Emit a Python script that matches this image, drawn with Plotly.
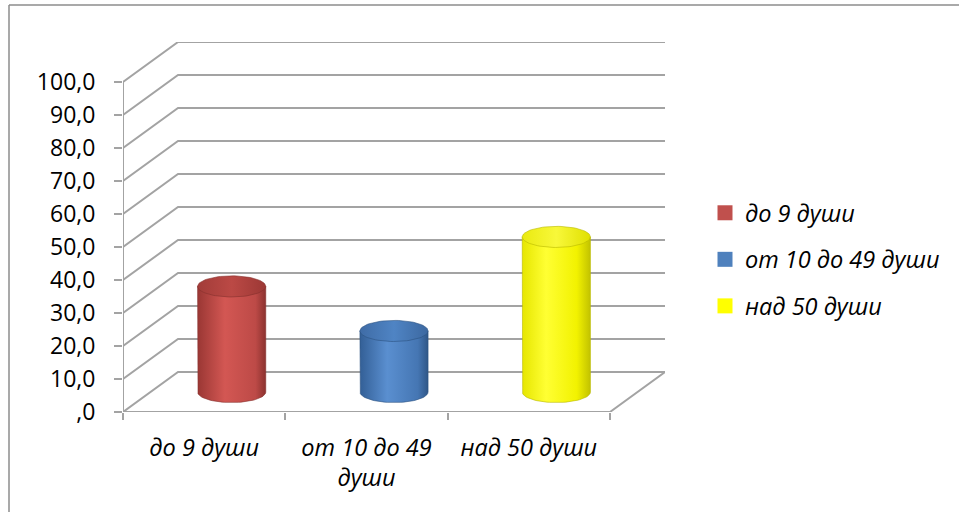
import numpy as np
import plotly.graph_objects as go

# ---- data ----
categories = ["до 9 души", "от 10 до 49 души", "над 50 души"]
category_tick_text = ["до 9 души", "от 10 до 49<br>души", "над 50 души"]
values = [32.0, 18.5, 47.0]
y_tick_values = [0, 10, 20, 30, 40, 50, 60, 70, 80, 90, 100]
y_tick_labels = [",0", "10,0", "20,0", "30,0", "40,0", "50,0",
                 "60,0", "70,0", "80,0", "90,0", "100,0"]

# ---- styling ----
base_colors = ["#C0504D", "#4F81BD", "#FFFF00"]
body_scales = [
    [[0, "#9a3734"], [0.4, "#d35753"], [0.85, "#bd4a47"], [1, "#8c322f"]],
    [[0, "#335f96"], [0.4, "#5a8fd0"], [0.85, "#4576b3"], [1, "#2f5687"]],
    [[0, "#e6e600"], [0.35, "#ffff33"], [0.8, "#f2f200"], [1, "#c2c200"]],
]
top_scales = [
    [[0, "#a23c39"], [0.5, "#bb4945"], [1, "#9c3835"]],
    [[0, "#3f6ca6"], [0.5, "#4f84c4"], [1, "#3c68a0"]],
    [[0, "#eaea10"], [0.5, "#f8f83a"], [1, "#e0e000"]],
]
edge_colors = ["#86302d", "#2c5282", "#b8b800"]
grid_color = "#a3a3a3"
font_family = "Open Sans"

# oblique depth of the 3D box, in axis units
DEPTH_X = 0.339
DEPTH_Y = 12.12
X_MIN, X_MAX = -0.5, 2.5
RADIUS_X = 0.21
RADIUS_Y = 3.2

fig = go.Figure()

# back-wall gridlines with their diagonal run to the front axis
for v in y_tick_values:
    fig.add_trace(go.Scatter(
        x=[X_MIN, X_MIN + DEPTH_X, X_MAX + DEPTH_X],
        y=[v, v + DEPTH_Y, v + DEPTH_Y],
        mode="lines", line=dict(color=grid_color, width=2),
        hoverinfo="skip", showlegend=False))

# front vertical axis line
fig.add_trace(go.Scatter(
    x=[X_MIN, X_MIN], y=[y_tick_values[0], y_tick_values[-1]],
    mode="lines", line=dict(color=grid_color, width=2),
    hoverinfo="skip", showlegend=False))

# floor: front edge and right edge
fig.add_trace(go.Scatter(
    x=[X_MIN, X_MAX, X_MAX + DEPTH_X],
    y=[0, 0, DEPTH_Y],
    mode="lines", line=dict(color=grid_color, width=2),
    hoverinfo="skip", showlegend=False))

# cylinders, centred at mid depth
t_front = np.linspace(np.pi, 2 * np.pi, 40)
t_full = np.linspace(0, 2 * np.pi, 80)
for i, val in enumerate(values):
    cx = i + DEPTH_X / 2
    base = DEPTH_Y / 2
    top = val + DEPTH_Y / 2
    bx = cx + RADIUS_X * np.cos(t_front)
    by = base + RADIUS_Y * np.sin(t_front)
    body_x = np.concatenate([[cx - RADIUS_X], bx, [cx + RADIUS_X], [cx - RADIUS_X]])
    body_y = np.concatenate([[top], by, [top], [top]])
    fig.add_trace(go.Scatter(
        x=body_x, y=body_y, mode="lines", fill="toself",
        line=dict(color=edge_colors[i], width=0.6),
        fillgradient=dict(type="horizontal", colorscale=body_scales[i]),
        hoverinfo="skip", showlegend=False))
    tx = cx + RADIUS_X * np.cos(t_full)
    ty = top + RADIUS_Y * np.sin(t_full)
    fig.add_trace(go.Scatter(
        x=tx, y=ty, mode="lines", fill="toself",
        line=dict(color=edge_colors[i], width=0.6),
        fillgradient=dict(type="horizontal", colorscale=top_scales[i]),
        hoverinfo="skip", showlegend=False))

# legend entries
for i, name in enumerate(categories):
    fig.add_trace(go.Scatter(
        x=[None], y=[None], mode="markers", name=name,
        legendgroup=f"g{i}",
        marker=dict(symbol="square", size=15, color=base_colors[i]),
        hoverinfo="skip"))

W, H = 959, 512
ML, MR, MT, MB = 123, 294, 42, 100
plot_w = W - ML - MR


def paper_x(px):
    return (px - ML) / plot_w


def paper_y(py):
    return (H - MB - py) / (H - MT - MB)


fig.update_layout(
    width=W, height=H, autosize=False,
    margin=dict(l=ML, r=MR, t=MT, b=MB, pad=0),
    paper_bgcolor="white", plot_bgcolor="white",
    font=dict(family=font_family, size=23, color="#000000"),
    showlegend=True,
    legend=dict(
        x=paper_x(705), xanchor="left", y=paper_y(191), yanchor="top",
        font=dict(family=font_family, size=23.5, style="italic"),
        tracegroupgap=13, bgcolor="rgba(0,0,0,0)"),
    xaxis=dict(
        range=[X_MIN, X_MAX + DEPTH_X], showgrid=False, zeroline=False,
        showline=False, tickvals=[0, 1, 2], ticktext=category_tick_text,
        ticks="", ticklabelstandoff=19,
        tickfont=dict(family=font_family, size=23.5, style="italic"),
        minor=dict(tickvals=[-0.5, 0.5, 1.5, 2.5], ticks="outside",
                   ticklen=7, tickwidth=2, tickcolor=grid_color),
        fixedrange=True),
    yaxis=dict(
        range=[0, 100 + DEPTH_Y], showgrid=False, zeroline=False,
        showline=False, tickvals=y_tick_values, ticktext=y_tick_labels,
        ticks="outside", ticklen=8, tickwidth=2, tickcolor=grid_color,
        ticklabelstandoff=14,
        tickfont=dict(family=font_family, size=23),
        fixedrange=True),
    shapes=[
        dict(type="line", xref="paper", yref="paper",
             x0=paper_x(9), x1=paper_x(9), y0=paper_y(5), y1=paper_y(513),
             line=dict(color="#8c8c8c", width=1.5)),
        dict(type="line", xref="paper", yref="paper",
             x0=paper_x(9), x1=paper_x(960), y0=paper_y(5), y1=paper_y(5),
             line=dict(color="#8c8c8c", width=1.5)),
    ],
)

fig.write_html("out.html")
